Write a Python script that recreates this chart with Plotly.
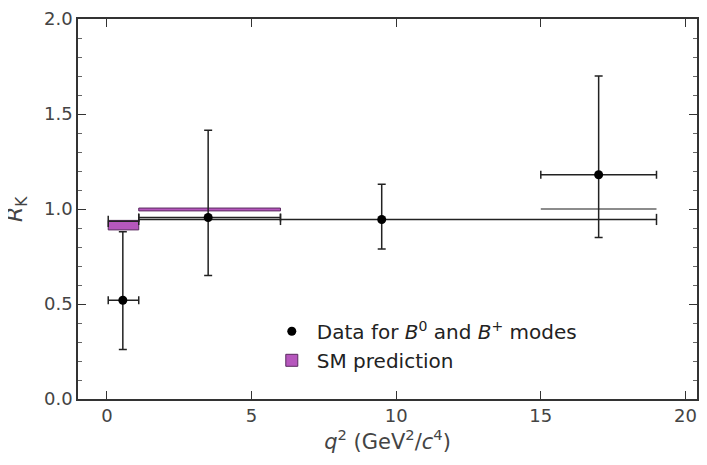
import plotly.graph_objects as go

# data points (q2 bins)
q2 = [0.55, 3.5, 9.5, 17.0]
q2_lo = [0.045, 1.1, 9.5, 15.0]
q2_hi = [1.1, 6.0, 9.5, 19.0]
rk = [0.52, 0.955, 0.945, 1.18]
rk_up = [0.88, 1.415, 1.13, 1.70]
rk_dn = [0.26, 0.65, 0.79, 0.85]

# SM prediction boxes
sm_lo = [0.045, 1.1]
sm_hi = [1.1, 6.0]
sm_bot = [0.89, 0.99]
sm_top = [0.94, 1.005]
sm_hiq_lo, sm_hiq_hi, sm_hiq = 15.0, 19.0, 1.0

# combined measurement line
comb_x = [0.045, 1.1, 6.0, 19.0]
comb_y = [0.935, 0.945, 0.945, 0.945]

fig = go.Figure()

fig.add_trace(go.Bar(
    x=[(a + b) / 2 for a, b in zip(sm_lo, sm_hi)],
    width=[b - a for a, b in zip(sm_lo, sm_hi)],
    base=sm_bot, y=[t - b for t, b in zip(sm_top, sm_bot)],
    marker=dict(color="#b657bd", line=dict(color="#5a2a60", width=1)),
    name="SM prediction", legendrank=2))

fig.add_trace(go.Scatter(x=[sm_hiq_lo, sm_hiq_hi], y=[sm_hiq, sm_hiq], mode="lines",
                         line=dict(color="#666", width=1.5), showlegend=False))

# combined line with caps
fig.add_trace(go.Scatter(x=[comb_x[0], comb_x[1], comb_x[1], comb_x[3]],
                         y=[comb_y[0], comb_y[0], comb_y[1], comb_y[3]], mode="lines",
                         line=dict(color="#222", width=1.5), showlegend=False))
fig.add_trace(go.Scatter(x=comb_x, y=comb_y, mode="markers",
                         marker=dict(symbol="line-ns", size=8, line=dict(color="#222", width=1.5)),
                         showlegend=False))

fig.add_trace(go.Scatter(
    x=q2, y=rk, mode="markers",
    marker=dict(color="black", size=9),
    error_x=dict(type="data", symmetric=False,
                 array=[h - c for h, c in zip(q2_hi, q2)],
                 arrayminus=[c - l for c, l in zip(q2, q2_lo)],
                 color="#222", thickness=1.5, width=4),
    error_y=dict(type="data", symmetric=False,
                 array=[u - c for u, c in zip(rk_up, rk)],
                 arrayminus=[c - d for c, d in zip(rk, rk_dn)],
                 color="#222", thickness=1.5, width=4),
    name="Data for <i>B</i><sup>0</sup> and <i>B</i><sup>+</sup> modes", legendrank=1))

axis_common = dict(showgrid=False, zeroline=False, showline=True, linecolor="#333",
                   linewidth=1.5, mirror="ticks", ticks="inside", ticklen=8,
                   tickcolor="#333", tickfont=dict(size=18, color="#444"),
                   automargin=False)

fig.update_layout(
    width=707, height=465, plot_bgcolor="white", paper_bgcolor="white",
    margin=dict(l=70, r=18, t=11, b=74), barmode="overlay",
    font=dict(family="DejaVu Sans"),
    xaxis=dict(range=[-1.0, 20.4], tickvals=[0, 5, 10, 15, 20], tickformat="d",
               title=dict(text="<i>q</i><sup>2</sup> (GeV<sup>2</sup>/<i>c</i><sup>4</sup>)",
                          font=dict(size=21, color="#444"), standoff=8),
               **axis_common),
    yaxis=dict(range=[0, 2.0], dtick=0.5, tickformat=".1f",
               minor=dict(ticks="inside", ticklen=4, tickcolor="#666", dtick=0.1),
               **axis_common),
    legend=dict(x=0.305, y=0.14, xanchor="left", yanchor="middle",
                font=dict(size=20, color="#222"), bgcolor="rgba(0,0,0,0)",
                tracegroupgap=16, itemwidth=40),
)

fig.add_annotation(text="<i>R</i><sub>K</sub>", xref="paper", yref="paper",
                   x=-0.1, y=0.5, xanchor="center", textangle=-90,
                   showarrow=False, font=dict(size=22, color="#444"))

fig.write_html("out.html")
